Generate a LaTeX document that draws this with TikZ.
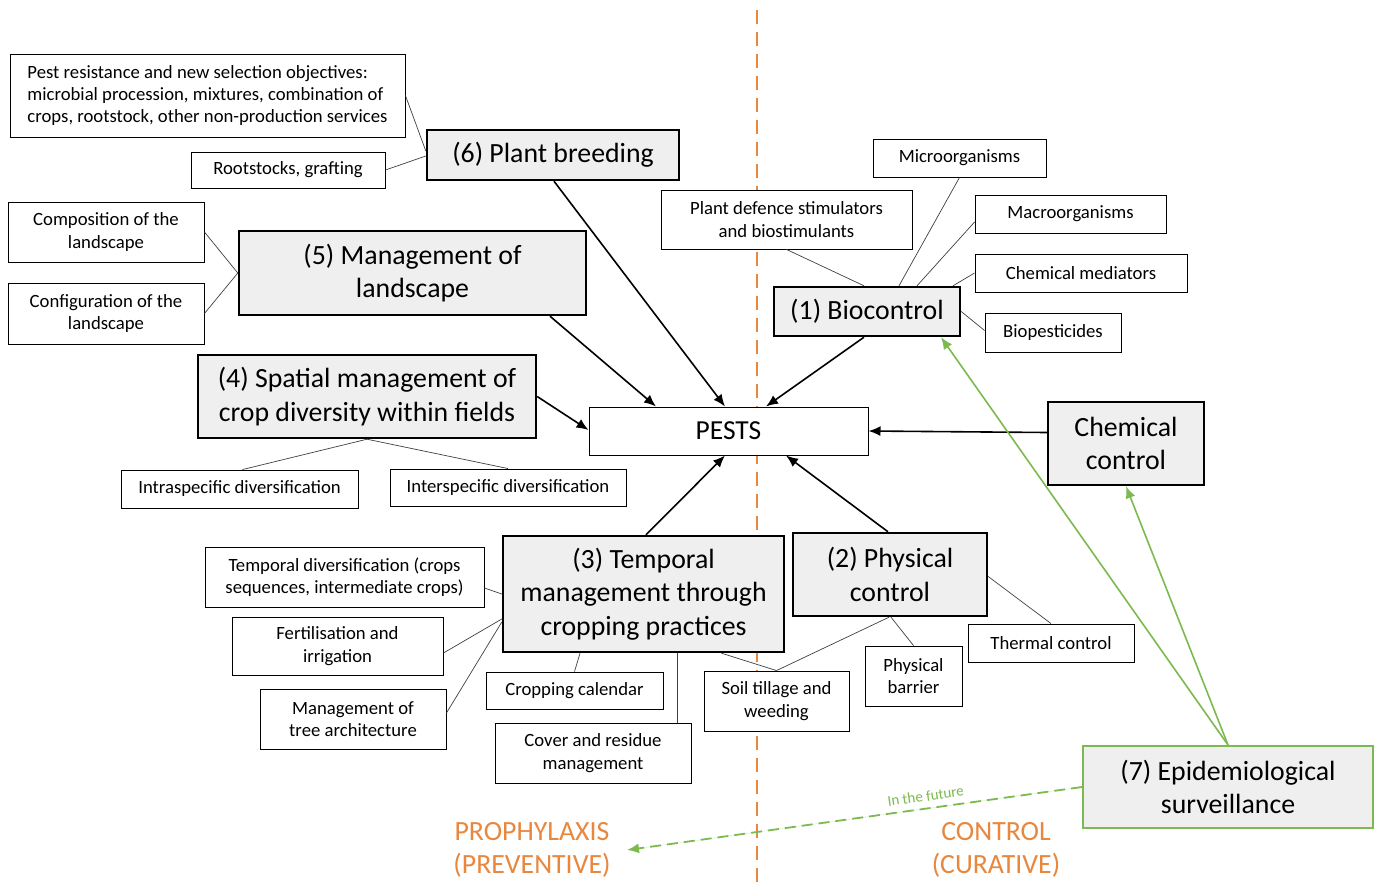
\documentclass[tikz,border=0pt]{standalone}
\usepackage{fontspec}
\setmainfont{Carlito}
\usetikzlibrary{arrows.meta}
\definecolor{boxgray}{HTML}{EFEFEF}
\definecolor{borange}{HTML}{E8873E}
\definecolor{bgreen}{HTML}{7CBA4F}
\begin{document}
\begin{tikzpicture}[x=1pt,y=-1pt,
  sbox/.style={draw,line width=0.9pt,fill=white,inner sep=0pt,align=center,font=\fontsize{18.7}{22.3}\selectfont},
  bbox/.style={draw,line width=2.4pt,fill=boxgray,inner sep=0pt,align=center,font=\fontsize{27.8}{33.5}\selectfont},
  link/.style={line width=0.7pt,draw=black!75},
  arr/.style={line width=1.6pt,-{Latex[length=12pt,width=10pt]}},
  garr/.style={line width=1.6pt,draw=bgreen,-{Latex[length=12pt,width=10pt]},fill=bgreen},
  divider/.style={draw=borange,line width=1.6pt,dash pattern=on 14pt off 8pt},
  sidelabel/.style={text=borange,align=center,font=\fontsize{27.8}{33}\selectfont}
]
\useasboundingbox (0,0) rectangle (1378,889);
\fill[white] (0,0) rectangle (1378,889);

% divider
\draw[divider] (757,10) -- (757,889);

% nodes
\node[sbox,align=left,minimum width=395pt,minimum height=83pt] (pest) at (207.5,95.5)
  {Pest resistance and new selection objectives:\\microbial procession, mixtures, combination of\\crops, rootstock, other non-production services};
\node[sbox,minimum width=194pt,minimum height=36pt] (root) at (288,170) {Rootstocks, grafting};
\node[bbox,minimum width=252pt,minimum height=50pt] (pb) at (553,155) {(6) Plant breeding};
\node[sbox,minimum width=196pt,minimum height=60pt] (comp) at (106,232) {Composition of the\\landscape};
\node[sbox,minimum width=196pt,minimum height=61pt] (conf) at (106,313.5) {Configuration of the\\landscape};
\node[bbox,minimum width=347pt,minimum height=84pt] (land) at (412.5,273) {(5) Management of\\landscape};
\node[bbox,minimum width=338pt,minimum height=83pt] (spat) at (367,396.5) {(4) Spatial management of\\crop diversity within fields};
\node[sbox,minimum width=237pt,minimum height=38pt] (intra) at (239.5,489) {Intraspecific diversification};
\node[sbox,minimum width=236pt,minimum height=37pt] (inter) at (508,487.5) {Interspecific diversification};
\node[sbox,line width=1pt,minimum width=279pt,minimum height=48pt,font=\fontsize{27.5}{30}\selectfont] (pests) at (728.5,431) {PESTS};
\node[sbox,minimum width=251pt,minimum height=59pt] (pds) at (786.5,219.5) {Plant defence stimulators\\and biostimulants};
\node[sbox,minimum width=173pt,minimum height=38pt] (micro) at (959.5,158) {Microorganisms};
\node[sbox,minimum width=191pt,minimum height=38pt] (macro) at (1070.5,214) {Macroorganisms};
\node[sbox,minimum width=212pt,minimum height=38pt] (chemmed) at (1081,273) {Chemical mediators};
\node[bbox,minimum width=186pt,minimum height=49pt] (bio) at (867,311.5) {(1) Biocontrol};
\node[sbox,minimum width=136pt,minimum height=39pt] (biop) at (1053,332.5) {Biopesticides};
\node[bbox,minimum width=156pt,minimum height=83pt] (chem) at (1126,443.5) {Chemical\\control};
\node[bbox,minimum width=281pt,minimum height=116pt] (temp) at (643.5,594) {(3) Temporal\\management through\\cropping practices};
\node[bbox,minimum width=194pt,minimum height=83pt] (phys) at (890,574.5) {(2) Physical\\control};
\node[sbox,minimum width=279pt,minimum height=60pt] (tdiv) at (344.5,577) {Temporal diversification (crops\\sequences, intermediate crops)};
\node[sbox,minimum width=211pt,minimum height=58pt] (fert) at (337.5,646) {Fertilisation and\\irrigation};
\node[sbox,minimum width=186pt,minimum height=60pt] (tree) at (353,719) {Management of\\tree architecture};
\node[sbox,minimum width=177pt,minimum height=37pt] (cal) at (574.5,690.5) {Cropping calendar};
\node[sbox,minimum width=196pt,minimum height=60pt] (cover) at (593,753) {Cover and residue\\management};
\node[sbox,minimum width=145pt,minimum height=60pt] (soil) at (776.5,701) {Soil tillage and\\weeding};
\node[sbox,minimum width=97pt,minimum height=60pt] (barrier) at (913.5,676) {Physical\\barrier};
\node[sbox,minimum width=166pt,minimum height=38pt] (thermal) at (1051,643) {Thermal control};
\node[bbox,draw=bgreen,line width=2pt,minimum width=290pt,minimum height=82pt] (epi) at (1228,787) {(7) Epidemiological\\surveillance};

\node[sidelabel] (prophy) at (532,850) {PROPHYLAXIS\\(PREVENTIVE)};
\node[sidelabel] (curat) at (996,850) {CONTROL\\(CURATIVE)};
\coordinate (future) at (627,850);

% thin links
\draw[link] (pest.east) -- ([yshift=4pt]pb.west);
\draw[link] (root.east) -- ([yshift=-1pt]pb.west);
\draw[link] (comp.east) -- (land.west);
\draw[link] (conf.east) -- (land.west);
\draw[link] (spat.south) -- ([xshift=3pt]intra.north);
\draw[link] (spat.south) -- (inter.north);
\draw[link] (pds.south) -- ([xshift=-3pt]bio.north);
\draw[link] (micro.south) -- ([xshift=32pt]bio.north);
\draw[link] ([yshift=-8pt]macro.west) -- ([xshift=50pt]bio.north);
\draw[link] (chemmed.west) -- ([xshift=86pt]bio.north);
\draw[link] ([yshift=2pt]biop.west) -- (bio.east);
\draw[link] ([yshift=-11pt]tdiv.east) -- (temp.west);
\draw[link] ([yshift=-7pt]fert.east) -- ([yshift=-25pt]temp.west);
\draw[link] ([yshift=6pt]tree.east) -- ([yshift=-28pt]temp.west);
\draw[link] (cal.north) -- ([xshift=-63.5pt]temp.south);
\draw[link] ([xshift=84pt]cover.north) -- ([xshift=33.5pt]temp.south);
\draw[link] ([xshift=78pt]temp.south) -- (soil.north);
\draw[link] ([xshift=-1pt]phys.south) -- (soil.north);
\draw[link] ([xshift=1pt]phys.south) -- (barrier.north);
\draw[link] ([yshift=-2pt]phys.east) -- (thermal.north);

% arrows to PESTS
\draw[arr] ([xshift=1pt]pb.south) -- ([xshift=-3.5pt]pests.north);
\draw[arr] ([xshift=137.5pt]land.south) -- ([xshift=-72.5pt]pests.north);
\draw[arr] ([xshift=-3pt]bio.south) -- ([xshift=37.5pt]pests.north);
\draw[arr] (spat.east) -- ([yshift=1pt]pests.west);
\draw[arr] ([yshift=11pt]chem.west) -- (pests.east);
\draw[arr] ([xshift=2.5pt]temp.north) -- ([xshift=-3.5pt]pests.south);
\draw[arr] ([xshift=-2pt]phys.north) -- ([xshift=57.5pt]pests.south);

% green
\draw[garr] (epi.north) -- ([xshift=74pt]bio.south);
\draw[garr] (epi.north) -- (chem.south);
\draw[garr,line width=1.8pt,dash pattern=on 11pt off 6pt] (epi.west) -- node[pos=0.34,sloped,above=3pt,text=bgreen,font=\fontsize{15}{18}\selectfont] {In the future} (future);
\end{tikzpicture}
\end{document}
